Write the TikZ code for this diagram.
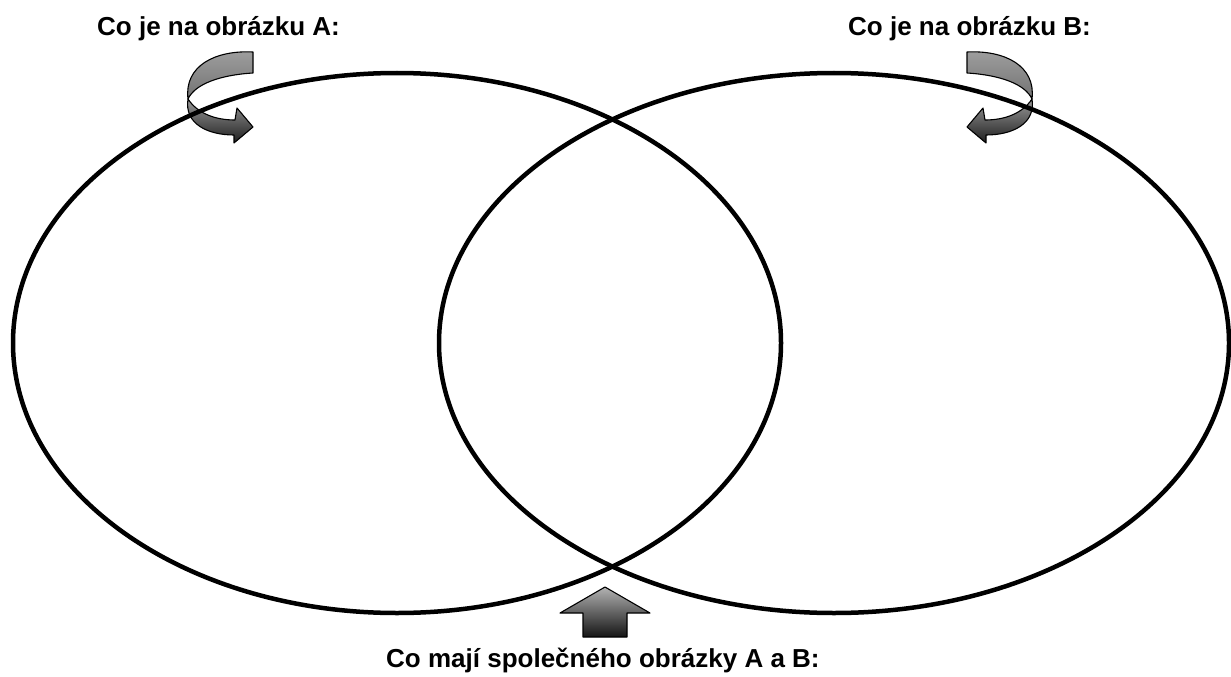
\documentclass[tikz,border=0pt]{standalone}
\usepackage{fontspec}
\setmainfont{Liberation Sans}
\begin{document}
\begin{tikzpicture}[x=1pt,y=-1pt,
  lbl/.style={inner sep=0pt, font=\fontsize{26pt}{30pt}\selectfont\bfseries},
  ring/.style={draw=black, line width=4.5pt},
  edge/.style={draw=black, line width=1.1pt, line join=round},
  backband/.style={edge, top color=black!38, bottom color=black!55},
  frontband/.style={edge, top color=black!40, bottom color=black!88},
  uparrow/.style={edge, top color=black!30, bottom color=black!92}]
\useasboundingbox (0,0) rectangle (1231,677);

% curved arrow on the right (tail at top, head pointing left)
\begin{scope}
  \path[backband] (967,52) .. controls (1005,50) and (1036,66) .. (1032,99)
    .. controls (1025,84) and (1000,75) .. (967,73) -- cycle;
  \path[frontband] (1032,99) .. controls (1036,124) and (1012,135) .. (986,135)
    -- (986,143) -- (967,127) -- (983,108) -- (985,120)
    .. controls (1004,120) and (1022,114) .. (1032,99) -- cycle;
\end{scope}

% the same arrow, mirrored, on the left
\begin{scope}[xshift=1220pt, xscale=-1]
  \path[backband] (967,52) .. controls (1005,50) and (1036,66) .. (1032,99)
    .. controls (1025,84) and (1000,75) .. (967,73) -- cycle;
  \path[frontband] (1032,99) .. controls (1036,124) and (1012,135) .. (986,135)
    -- (986,143) -- (967,127) -- (983,108) -- (985,120)
    .. controls (1004,120) and (1022,114) .. (1032,99) -- cycle;
\end{scope}

% block arrow pointing up at the lower intersection
\path[uparrow] (605,587) -- (650,613) -- (627,613) -- (627,637)
  -- (583,637) -- (583,613) -- (560,613) -- cycle;

% the two overlapping sets
\draw[ring] (397,343) ellipse [x radius=384pt, y radius=270pt];
\draw[ring] (834,343) ellipse [x radius=395pt, y radius=270pt];

% captions
\node[lbl, anchor=base west] (capA) at (97,36) {Co je na obrázku A:};
\node[lbl, anchor=base west] (capB) at (848,36) {Co je na obrázku B:};
\node[lbl, anchor=base west] (capAB) at (386,667) {Co mají společného obrázky A a B:};
\end{tikzpicture}
\end{document}
